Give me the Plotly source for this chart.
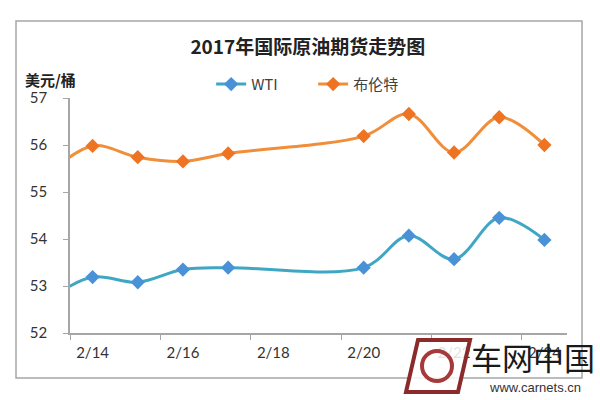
import plotly.graph_objects as go

# Data (day of February 2017; 18 and 19 have no quotes)
days = [13, 14, 15, 16, 17, 18, 19, 20, 21, 22, 23, 24]
wti = [52.70, 53.19, 53.08, 53.35, 53.39, None, None, 53.39, 54.07, 53.57, 54.45, 53.98]
brent = [55.36, 55.98, 55.74, 55.65, 55.82, None, None, 56.19, 56.66, 55.84, 56.59, 56.00]
tick_days = [14, 16, 18, 20, 22, 24]
tick_labels = ["2/14", "2/16", "2/18", "2/20", "2/22", "2/24"]
slot_edges = [13.5, 15.5, 17.5, 19.5, 21.5, 23.5]
y_ticks = [52, 53, 54, 55, 56, 57]

title_text = "2017年国际原油期货走势图"
y_title = "美元/桶"

NUM_FONT = "Lato, 'Noto Sans CJK SC', sans-serif"
CJK_FONT = "'Noto Sans CJK SC', Lato, sans-serif"

fig = go.Figure()
fig.add_trace(go.Scatter(
    x=days, y=wti, name="WTI", mode="lines+markers",
    line=dict(color="#3FA6C4", width=3, shape="spline", smoothing=1.0),
    marker=dict(symbol="diamond", size=11, color="#4A92D8"),
    connectgaps=True,
))
fig.add_trace(go.Scatter(
    x=days, y=brent, name="布伦特", mode="lines+markers",
    line=dict(color="#F08E3A", width=3, shape="spline", smoothing=1.0),
    marker=dict(symbol="diamond", size=11, color="#EE7424"),
    connectgaps=True,
))

fig.update_layout(
    width=600, height=400,
    margin=dict(l=70, r=33, t=98, b=67),
    paper_bgcolor="white", plot_bgcolor="white",
    showlegend=True,
    legend=dict(
        orientation="h", x=0.284, y=1.058, xanchor="left", yanchor="middle",
        font=dict(family=CJK_FONT, size=15, color="#404040"),
        entrywidth=57, entrywidthmode="pixels",
        bgcolor="rgba(0,0,0,0)", itemclick=False,
    ),
    title=dict(
        text="<b>" + title_text + "</b>", x=0.513, xref="container", xanchor="center",
        y=1 - 47 / 400, yref="container", yanchor="middle",
        font=dict(family=CJK_FONT, size=19, color="#222222"),
    ),
    xaxis=dict(
        range=[13.5, 24.5], tickmode="array", tickvals=tick_days, ticktext=tick_labels,
        ticks="outside", ticklen=0, showgrid=False, zeroline=False,
        showline=True, linecolor="#A6A6A6", linewidth=1.5,
        tickfont=dict(family=NUM_FONT, size=15, color="#333333"),
        ticklabelstandoff=5,
        minor=dict(tickmode="array", tickvals=slot_edges, ticks="outside",
                   ticklen=5, tickcolor="#A6A6A6", tickwidth=1, showgrid=False),
        fixedrange=True,
    ),
    yaxis=dict(
        range=[52, 57], tickmode="array", tickvals=y_ticks,
        ticks="outside", ticklen=5, tickcolor="#A6A6A6", tickwidth=1,
        showgrid=False, zeroline=False,
        showline=True, linecolor="#A6A6A6", linewidth=1.5,
        tickfont=dict(family=NUM_FONT, size=15, color="#333333"),
        ticklabelstandoff=13,
        fixedrange=True,
    ),
)

def px(x):
    return (x - 70) / 497

def py(y):
    return (333 - y) / 235

# y-axis unit label
fig.add_annotation(
    text="<b>" + y_title + "</b>", xref="paper", yref="paper",
    x=px(50), y=py(79), xanchor="center", yanchor="middle",
    showarrow=False, font=dict(family=CJK_FONT, size=15, color="#222222"),
)

# chart frame
fig.add_shape(
    type="rect", xref="paper", yref="paper",
    x0=px(16), x1=px(582), y0=py(378), y1=py(21),
    line=dict(color="#A6A6A6", width=1.5), fillcolor="rgba(0,0,0,0)", layer="below",
)

# watermark
fig.add_shape(
    type="path", xref="paper", yref="paper",
    path=(f"M {px(418)},{py(340)} L {px(470)},{py(340)} L {px(458)},{py(392)} "
          f"L {px(406)},{py(392)} Z"),
    line=dict(color="#8B2A2A", width=4), fillcolor="rgba(255,255,255,0.85)",
)
fig.add_shape(
    type="circle", xref="paper", yref="paper",
    x0=px(422), x1=px(452), y0=py(381), y1=py(351),
    line=dict(color="#A63A3A", width=4), fillcolor="rgba(0,0,0,0)",
)
fig.add_annotation(
    text="车网中国", xref="paper", yref="paper", x=px(533), y=py(356),
    xanchor="center", yanchor="middle", showarrow=False,
    font=dict(family=CJK_FONT, size=31, color="#1a1a1a"),
)
fig.add_annotation(
    text="www.carnets.cn", xref="paper", yref="paper", x=px(535), y=py(387),
    xanchor="center", yanchor="middle", showarrow=False,
    font=dict(family="'Liberation Sans', Arial, sans-serif", size=13, color="#333333"),
)

fig.write_html("out.html", config={"displayModeBar": False},
               post_script="document.body.style.margin='0';")
